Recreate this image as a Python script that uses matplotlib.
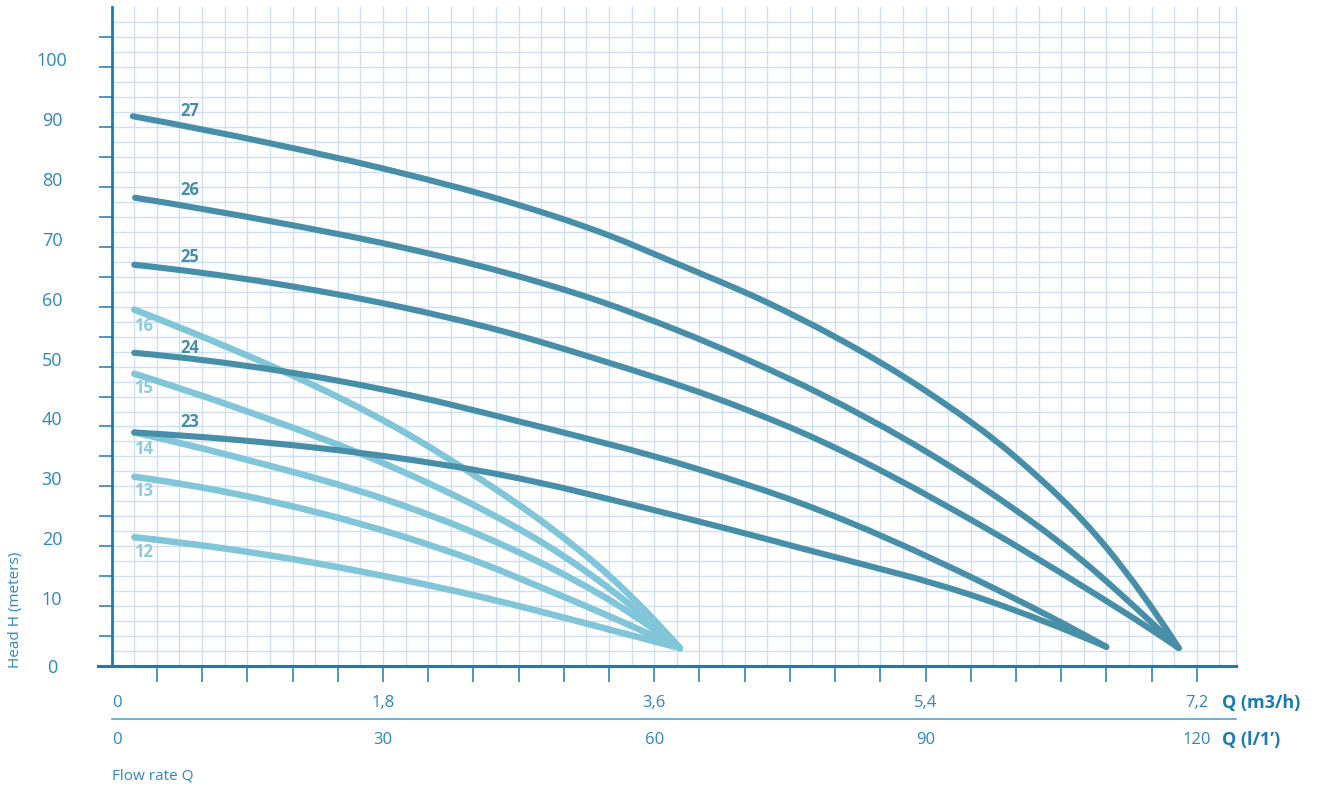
import numpy as np
import matplotlib
matplotlib.use('Agg')
import matplotlib.pyplot as plt
import matplotlib.transforms as mtransforms
from matplotlib.lines import Line2D
from matplotlib.path import Path
from matplotlib.patches import PathPatch

plt.rcParams['font.family'] = ['Open Sans', 'DejaVu Sans']

# flow Q in m3/h, head H in meters
q27 = [0.14, 1.05, 1.91, 2.58, 3.31, 3.75, 4.35, 4.79, 5.41, 6.01, 6.60, 7.08]
h27 = [91.8, 87.3, 82.4, 77.9, 71.8, 67.2, 60.7, 55.1, 45.8, 34.6, 19.8, 3.0]
q26 = [0.155, 1.05, 1.91, 2.58, 3.24, 3.75, 4.24, 4.73, 5.78, 6.45, 6.89, 7.08]
h26 = [78.2, 74.3, 70.0, 65.9, 60.9, 56.1, 50.9, 45.1, 29.8, 17.4, 7.5, 3.0]
q25 = [0.15, 1.05, 1.91, 2.58, 3.24, 3.99, 4.57, 5.78, 6.45, 6.89, 7.08]
h25 = [67.0, 64.0, 60.0, 56.0, 51.1, 44.9, 39.1, 23.3, 13.2, 6.2, 3.0]
q24 = [0.15, 1.14, 1.91, 2.66, 3.90, 4.57, 5.78, 6.60]
h24 = [52.3, 49.2, 45.6, 41.1, 32.8, 27.2, 13.9, 3.2]
q23 = [0.15, 0.81, 1.91, 2.44, 3.90, 4.57, 5.78, 6.60]
h23 = [39.0, 37.8, 34.7, 32.6, 24.1, 19.7, 11.2, 3.2]

q16 = [0.15, 0.81, 1.14, 1.91, 2.44, 2.89, 3.33, 3.77]
h16 = [59.5, 52.8, 49.2, 39.5, 31.3, 23.5, 14.4, 3.0]
q_small = [0.15, 0.81, 1.91, 2.44, 2.89, 3.33, 3.77]
h15 = [48.8, 43.3, 32.7, 26.4, 20.1, 12.4, 3.0]
h14 = [39.0, 35.0, 27.0, 21.9, 16.7, 10.6, 3.0]
h13 = [31.6, 28.8, 21.8, 17.3, 12.7, 8.0, 3.0]
h12 = [21.5, 19.4, 14.5, 11.6, 8.8, 5.9, 3.0]

dark_curves = [('27', q27, h27), ('26', q26, h26), ('25', q25, h25),
               ('24', q24, h24), ('23', q23, h23)]
light_curves = [('16', q16, h16), ('15', q_small, h15), ('14', q_small, h14),
                ('13', q_small, h13), ('12', q_small, h12)]

# label anchor points (Q, H)
dark_label_pos = {'27': (0.52, 92.7), '26': (0.52, 79.5), '25': (0.52, 68.3),
                  '24': (0.52, 53.1), '23': (0.52, 40.8)}
light_label_pos = {'16': (0.21, 56.8), '15': (0.21, 46.4), '14': (0.21, 36.2),
                   '13': (0.21, 29.3), '12': (0.21, 19.1)}

y_labels = [0, 10, 20, 30, 40, 50, 60, 70, 80, 90, 100]
x_m3h = [0, 1.8, 3.6, 5.4, 7.2]
x_m3h_txt = ['0', '1,8', '3,6', '5,4', '7,2']
x_lmin = [0, 30, 60, 90, 120]

AXIS = '#1c7ab3'
TEXT = '#2d87c0'
GRID = '#cfdff0'
DARK = '#478fa8'
LIGHT = '#80c5d8'


def smooth_path(q, h):
    # cubic Hermite through the read points (3-point slopes), as Bezier segments
    x = np.asarray(q, float)
    y = np.asarray(h, float)
    dx = np.diff(x)
    d = np.diff(y) / dx
    m = np.empty_like(x)
    m[1:-1] = (dx[1:] * d[:-1] + dx[:-1] * d[1:]) / (dx[:-1] + dx[1:])
    m[0] = ((2 * dx[0] + dx[1]) * d[0] - dx[0] * d[1]) / (dx[0] + dx[1])
    m[-1] = ((2 * dx[-1] + dx[-2]) * d[-1] - dx[-1] * d[-2]) / (dx[-1] + dx[-2])
    verts = [(x[0], y[0])]
    codes = [Path.MOVETO]
    for i in range(len(x) - 1):
        t = dx[i] / 3
        verts += [(x[i] + t, y[i] + m[i] * t),
                  (x[i + 1] - t, y[i + 1] - m[i + 1] * t),
                  (x[i + 1], y[i + 1])]
        codes += [Path.CURVE4] * 3
    return Path(verts, codes)


fig = plt.figure(figsize=(13.2, 7.91), dpi=100)
ax = fig.add_axes([0.0846, 0.15803, 0.85174, 0.83274])
ax.set_xlim(0, 7.46)
ax.set_ylim(0, 110)

# grid
ax.set_xticks(np.arange(0.3, 7.21, 0.3))
ax.set_xticks(np.arange(0.15, 7.4, 0.3), minor=True)
ax.set_yticks(np.arange(0, 106, 5))
ax.set_yticks(np.arange(2.5, 108, 5), minor=True)
ax.grid(which='both', color=GRID, lw=1.0, zorder=0)
ax.set_axisbelow(True)
ax.tick_params(axis='x', which='major', direction='out', length=11.5, width=1.1,
               color=AXIS, labelbottom=False)
ax.tick_params(axis='y', which='major', direction='out', length=9.5, width=1.1,
               color=AXIS, labelleft=False)
ax.tick_params(which='minor', length=0)

ax.spines['top'].set_visible(False)
ax.spines['right'].set_color(GRID)
ax.spines['right'].set_linewidth(1.0)
ax.spines['left'].set_color(AXIS)
ax.spines['left'].set_linewidth(2.0)
ax.spines['bottom'].set_color(AXIS)
ax.spines['bottom'].set_linewidth(2.2)
ax.spines['bottom'].set_bounds(-0.09, 7.46)

for name, q, h in dark_curves:
    ax.add_patch(PathPatch(smooth_path(q, h), fill=False, edgecolor=DARK, lw=4.4,
                           capstyle='round', joinstyle='round', zorder=3))
    lx, ly = dark_label_pos[name]
    ax.text(lx, ly, name, color=DARK, fontsize=12, fontweight='bold',
            ha='center', va='center', zorder=5)

for name, q, h in light_curves:
    ax.add_patch(PathPatch(smooth_path(q, h), fill=False, edgecolor=LIGHT, lw=4.7,
                           capstyle='round', joinstyle='round', zorder=2))
    lx, ly = light_label_pos[name]
    ax.text(lx, ly, name, color='#8ccbe0', fontsize=12, fontweight='bold',
            ha='center', va='center', zorder=5)

# y labels
ytrans = mtransforms.blended_transform_factory(ax.transAxes, ax.transData)
for v in y_labels:
    dy = 1.0 if v else -0.35
    ax.text(-0.0531, v + dy, str(v), transform=ytrans, color=TEXT, fontsize=13,
            ha='center', va='center')

# x labels, two rows
xtrans = ax.get_xaxis_transform()
for v, t in zip(x_m3h, x_m3h_txt):
    ax.text(v, -0.0562, t, transform=xtrans, color=TEXT, fontsize=12,
            ha='left' if v == 0 else 'center', va='center')
for v in x_lmin:
    ax.text(v * 0.06, -0.1118, str(v), transform=xtrans, color=TEXT, fontsize=12,
            ha='left' if v == 0 else 'center', va='center')

ax.add_line(Line2D([0, 1], [-0.0809, -0.0809], transform=ax.transAxes,
                   color='#5a9fcf', lw=1.2, clip_on=False))

ax.text(0.9876, -0.0562, 'Q (m3/h)', transform=ax.transAxes, color=AXIS,
        fontsize=13, fontweight='bold', ha='left', va='center')
ax.text(0.9876, -0.1118, 'Q (l/1\u2019)', transform=ax.transAxes, color=AXIS,
        fontsize=13, fontweight='bold', ha='left', va='center')
ax.text(0.0, -0.167, 'Flow rate Q', transform=ax.transAxes, color=TEXT,
        fontsize=11, ha='left', va='center')
fig.text(0.012, 0.229, 'Head H (meters)', rotation=90, color=TEXT,
         fontsize=11, ha='center', va='center')

fig.savefig('out.png', dpi=100)
